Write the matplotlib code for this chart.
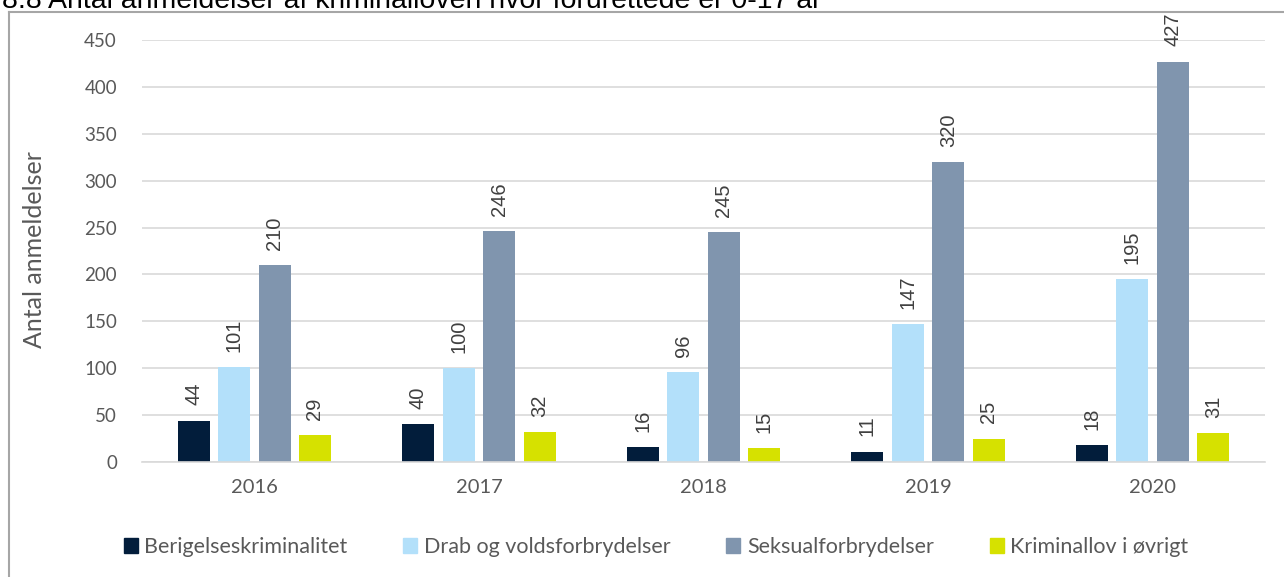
import matplotlib
matplotlib.use("Agg")
import matplotlib.pyplot as plt
import numpy as np
from matplotlib.patches import Rectangle
from matplotlib.lines import Line2D

years = ["2016", "2017", "2018", "2019", "2020"]
series_names = ["Berigelseskriminalitet", "Drab og voldsforbrydelser",
                "Seksualforbrydelser", "Kriminallov i øvrigt"]
berigelse = [44, 40, 16, 11, 18]
drab = [101, 100, 96, 147, 195]
seksual = [210, 246, 245, 320, 427]
oevrigt = [29, 32, 15, 25, 31]
colors = ["#021D3B", "#B3E0FA", "#8095AE", "#D6E100"]
yticks = [0, 50, 100, 150, 200, 250, 300, 350, 400, 450]

W, H = 1284, 577
fig = plt.figure(figsize=(W / 100, H / 100), dpi=100)

body = ["Lato", "DejaVu Sans"]
arial = ["Liberation Sans", "DejaVu Sans"]

# frame around chart
fig.add_artist(Line2D([9 / W, 9 / W], [0, 1 - 12 / H], transform=fig.transFigure,
                      color="#A6A6A6", lw=1.5))
fig.add_artist(Line2D([9 / W, 1], [1 - 12 / H, 1 - 12 / H], transform=fig.transFigure,
                      color="#A6A6A6", lw=1.5))

# title (cut off at top, as in the reference)
fig.text(2 / W, 1 - 8 / H, "8.8 Antal anmeldelser af kriminalloven hvor forurettede er 0-17 år",
         fontsize=20.5, family=arial, color="#000000", va="baseline", ha="left")

ax = fig.add_axes([142 / W, 1 - 462 / H, (1265 - 142) / W, (462 - 40) / H])
ax.set_xlim(-0.5, 4.5)
ax.set_ylim(0, 450)
ax.set_yticks(yticks)
ax.grid(axis="y", color="#D9D9D9", lw=1.2)
ax.set_axisbelow(True)
for s in ["top", "right", "left"]:
    ax.spines[s].set_visible(False)
ax.spines["bottom"].set_color("#D9D9D9")
ax.spines["bottom"].set_linewidth(1.2)
ax.tick_params(length=0)
ax.tick_params(axis="y", pad=18, labelsize=13.5, labelcolor="#595959")
ax.tick_params(axis="x", pad=12, labelsize=14.5, labelcolor="#595959")
for lbl in ax.get_yticklabels() + ax.get_xticklabels():
    lbl.set_family(body)

x = np.arange(len(years))
pitch = 0.18
bw = 0.1425
data = [berigelse, drab, seksual, oevrigt]
for i, (vals, c) in enumerate(zip(data, colors)):
    pos = x + (i - 1.5) * pitch
    ax.bar(pos, vals, width=bw, color=c, label=series_names[i])
    for p, v in zip(pos, vals):
        ax.annotate(str(v), (p, v), xytext=(0, 11), textcoords="offset points",
                    rotation=90, ha="center", va="bottom", fontsize=14.5,
                    color="#404040", family=arial)
ax.set_xticks(x)
ax.set_xticklabels(years)

fig.text(35 / W, 1 - 250 / H, "Antal anmeldelser", rotation=90, ha="center", va="center",
         fontsize=18, color="#595959", family=body)

handles = [Rectangle((0, 0), 1, 1, color=c) for c in colors]
leg = fig.legend(handles, series_names, loc="center", bbox_to_anchor=(656 / W, 1 - 547 / H),
                 ncol=4, frameon=False, handlelength=0.65, handleheight=0.65,
                 handletextpad=0.3, columnspacing=2.6, prop={"family": body, "size": 15.5})
for t in leg.get_texts():
    t.set_color("#595959")

fig.savefig("out.png", dpi=100)
